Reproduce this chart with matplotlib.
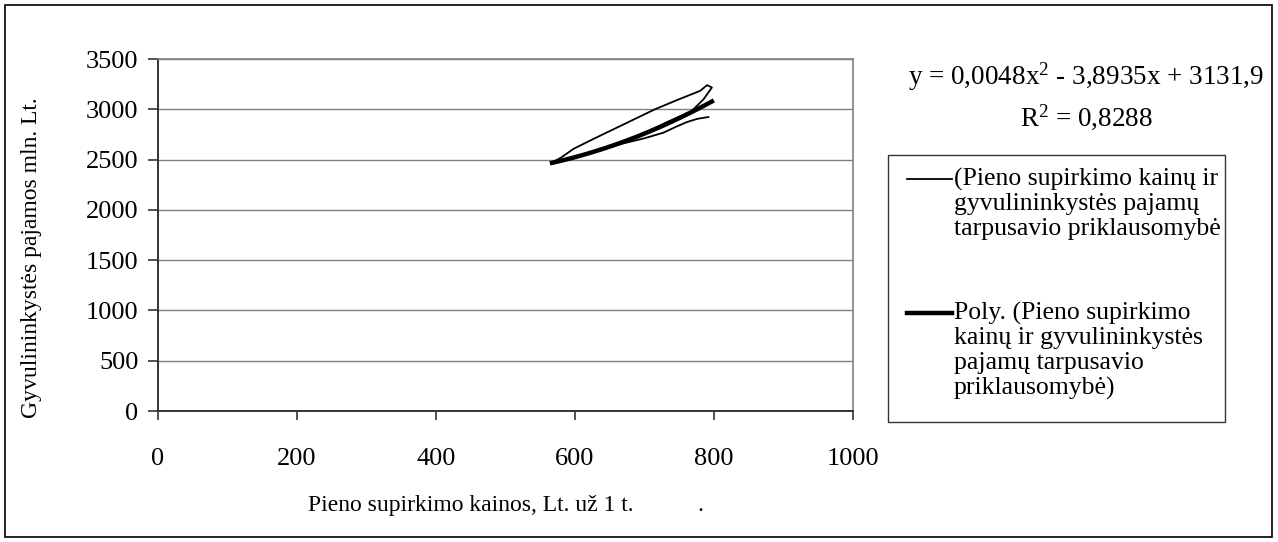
import matplotlib
matplotlib.use("Agg")
import matplotlib.pyplot as plt
from matplotlib.lines import Line2D
from matplotlib.patches import Rectangle
import numpy as np

plt.rcParams['font.family'] = ['Liberation Serif', 'DejaVu Serif']
plt.rcParams['mathtext.fontset'] = 'custom'
plt.rcParams['mathtext.rm'] = 'Liberation Serif'
plt.rcParams['mathtext.it'] = 'Liberation Serif:italic'

# milk purchase price (Lt/t) vs livestock income (mln. Lt), in time order
price = [792, 776, 761, 745, 727, 700, 669, 640, 610, 583, 567,
         580, 598, 625, 655, 685, 715, 748, 780, 790, 797, 785, 768, 735, 700, 660, 620, 590]
income = [2923, 2905, 2873, 2825, 2767, 2712, 2660, 2600, 2540, 2495, 2470,
          2520, 2607, 2700, 2800, 2900, 3000, 3095, 3183, 3240, 3217, 3100, 2983, 2880, 2765, 2655, 2560, 2495]

# polynomial trendline coefficients
coef = [0.0048, -3.8935, 3131.9]
r2 = 0.8288

yticks = [0, 500, 1000, 1500, 2000, 2500, 3000, 3500]
xticks = [0, 200, 400, 600, 800, 1000]

series_label = ["(Pieno supirkimo kainų ir", "gyvulininkystės pajamų", "tarpusavio priklausomybė"]
trend_label = ["Poly. (Pieno supirkimo", "kainų ir gyvulininkystės", "pajamų tarpusavio", "priklausomybė)"]

fig = plt.figure(figsize=(12.78, 5.42), dpi=100)
W, H = 1278, 542
ax = fig.add_axes([158 / W, 1 - 411 / H, (853 - 158) / W, (411 - 59) / H])

ax.plot(price, income, color='black', lw=1.3)
xs = np.linspace(min(price), max(price), 200)
ax.plot(xs, np.polyval(coef, xs), color='black', lw=3.2)

ax.set_xlim(0, 1000)
ax.set_ylim(0, 3500)
ax.set_xticks(xticks)
ax.set_yticks(yticks)
ax.grid(axis='y', color='#808080', lw=1.0)
ax.set_axisbelow(True)
for side in ['top', 'right']:
    ax.spines[side].set_color('#808080')
    ax.spines[side].set_linewidth(1.2)
for side in ['left', 'bottom']:
    ax.spines[side].set_color('#333333')
    ax.spines[side].set_linewidth(1.4)
ax.tick_params(axis='y', direction='out', length=7, width=1.2, pad=7, labelsize=19, color='#333333')
ax.tick_params(axis='x', direction='out', length=6.5, width=1.2, pad=20, labelsize=19, color='#333333')

ax.set_ylabel("Gyvulininkystės pajamos mln. Lt.", fontsize=17)
ax.yaxis.label.set_va('center')
ax.yaxis.set_label_coords((32 - 158) / (853 - 158), (411 - 258) / (411 - 59))
ax.set_xlabel("Pieno supirkimo kainos, Lt. už 1 t." + " " * 11 + ".", fontsize=17)
ax.xaxis.label.set_va('center')
ax.xaxis.set_label_coords(0.5, (411 - 505) / (411 - 59))

# trendline equation
fig.text(1086 / W, 1 - 77 / H, "y = 0,0048x$^{2}$ - 3,8935x + 3131,9", fontsize=19.5,
         ha='center', va='center')
fig.text(1086 / W, 1 - 117 / H, "R$^{2}$ = %s" % str(r2).replace('.', ','), fontsize=19.5,
         ha='center', va='center')

# legend box drawn by hand so the keys sit on the first text line
fig.patches.append(Rectangle((888 / W, 1 - 422 / H), (1225 - 888) / W, (422 - 155) / H,
                             transform=fig.transFigure, fill=False, ec='#333333', lw=1.0))
for y0, lines, lw in [(179, series_label, 1.3), (313, trend_label, 3.2)]:
    fig.lines.append(Line2D([907 / W, 952 / W], [1 - y0 / H] * 2, transform=fig.transFigure,
                            color='black', lw=lw))
    for i, s in enumerate(lines):
        fig.text(954 / W, 1 - (y0 + 25 * i) / H, s, fontsize=18.5, ha='left', va='center')

# outer frame of the chart
fig.patches.append(Rectangle((5 / W, 5 / H), (1272 - 5) / W, (537 - 5) / H,
                             transform=fig.transFigure, fill=False, ec='black', lw=1.2))

fig.savefig("out.png", dpi=100)
